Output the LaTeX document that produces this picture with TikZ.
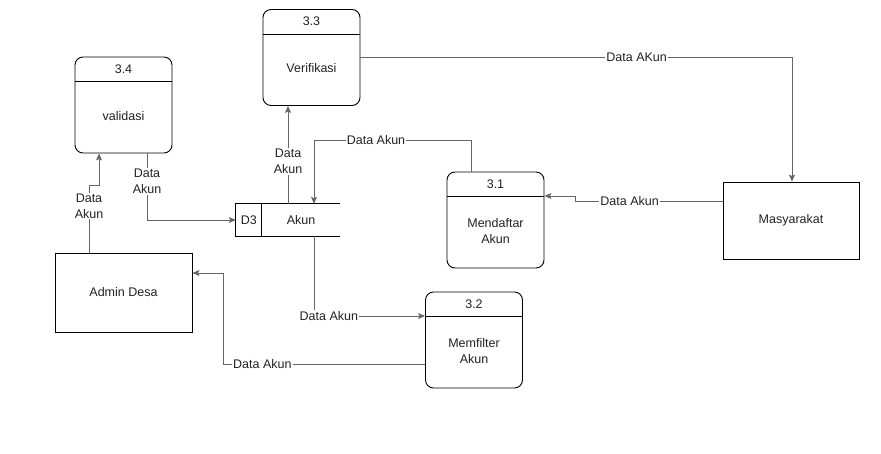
\documentclass[tikz,border=0pt]{standalone}
\usepackage{fontspec}
\setmainfont{Liberation Sans}
\usetikzlibrary{arrows.meta,calc}
\definecolor{lnc}{HTML}{666666}
\definecolor{txc}{HTML}{222222}
\tikzset{
  proc/.style={draw=black, line width=0.9pt, rounded corners=8pt, minimum width=97pt, minimum height=96pt, inner sep=0pt},
  ent/.style={draw=black, line width=0.9pt, minimum width=137pt, minimum height=78pt, inner sep=0pt},
  txt/.style={text=txc, font=\fontsize{12.5}{16}\selectfont, align=center, inner sep=0pt},
  flow/.style={draw=lnc, line width=0.8pt, -{Stealth[length=7pt,width=6pt,inset=1.5pt]}},
  plain/.style={draw=lnc, line width=0.8pt},
  lbl/.style={txt, fill=white, inner sep=1pt}
}
\begin{document}
\begin{tikzpicture}[x=1pt,y=-1pt]
\useasboundingbox (0,0) rectangle (881,453);
\fill[white] (0,0) rectangle (881,453);

% processes
\node[proc] (p34) at (123.5,105) {};
\node[proc] (p33) at (311.5,57.5) {};
\node[proc] (p31) at (495.5,220) {};
\node[proc] (p32) at (474,340) {};
\foreach \p in {p34,p33,p31,p32}{
  \draw[line width=0.9pt] ([yshift=-25pt]\p.north west) -- ([yshift=-25pt]\p.north east);
}
\node[txt] (h34) at ($(p34.north)+(0,12.5)$) {3.4};
\node[txt] (b34) at ($(p34.center)+(0,11)$) {validasi};
\node[txt] (h33) at ($(p33.north)+(0,12.5)$) {3.3};
\node[txt] (b33) at ($(p33.center)+(0,11)$) {Verifikasi};
\node[txt] (h31) at ($(p31.north)+(0,12.5)$) {3.1};
\node[txt] (b31) at ($(p31.center)+(0,11)$) {Mendaftar\\Akun};
\node[txt] (h32) at ($(p32.north)+(0,12.5)$) {3.2};
\node[txt] (b32) at ($(p32.center)+(0,11)$) {Memfilter\\Akun};

% entities
\node[ent, minimum width=136pt, minimum height=77pt] (masy) at (791,220.5) {};
\node[txt] (tmasy) at (masy.center) {Masyarakat};
\node[ent, minimum height=79pt] (admin) at (123.5,292.5) {};
\node[txt] (tadmin) at (admin.center) {Admin Desa};

% data store
\node[minimum width=104pt, minimum height=32pt, inner sep=0pt] (d3) at (288,220) {};
\draw[line width=0.9pt] (d3.north east) -- (d3.north west) -- (d3.south west) -- (d3.south east);
\draw[line width=0.9pt] ([xshift=26pt]d3.north west) -- ([xshift=26pt]d3.south west);
\node[txt] (td3) at ($(d3.west)+(13,0)$) {D3};
\node[txt] (takun) at ($(d3.center)+(13,0)$) {Akun};

% flows
% 3.1 -> D3
\coordinate (c1a) at (471,140);
\coordinate (c1b) at (314,140);
\draw[flow] ([xshift=-24.5pt]p31.north) -- (c1a) -- node[lbl,pos=0.605]{Data Akun} (c1b) -- ([xshift=26pt]d3.north);

% D3 -> 3.3
\draw[flow] (d3.north) -- node[lbl,pos=0.43]{Data\\Akun} ([xshift=-23.5pt]p33.south);

% 3.3 -> Masyarakat
\coordinate (c3a) at (792,57.5);
\draw[flow] (p33.east) -- node[lbl,pos=0.64]{Data AKun} (c3a) -- ([xshift=1pt]masy.north);

% Masyarakat -> 3.1
\coordinate (c4a) at (575,201.5);
\coordinate (c4b) at (575,196);
\draw[flow] ([yshift=19pt]masy.west) -- node[lbl,pos=0.63]{Data Akun} (c4a) -- (c4b) -- ([yshift=24pt]p31.east);

% D3 -> 3.2
\coordinate (c5a) at (314,316);
\draw[flow] ([xshift=26pt]d3.south) -- (c5a) -- node[lbl,pos=0.134]{Data Akun} ([yshift=24pt]p32.west);

% 3.2 -> Admin Desa
\coordinate (c6a) at (223,364);
\coordinate (c6b) at (223,273);
\draw[flow] ([yshift=-24pt]p32.west) -- node[lbl,pos=0.805]{Data Akun} (c6a) -- (c6b) -- ([yshift=19.5pt]admin.east);

% Admin Desa -> 3.4
\coordinate (c7a) at (89,185);
\coordinate (c7b) at (99,185);
\draw[flow] ([xshift=-34.5pt]admin.north) -- node[lbl,pos=0.69]{Data\\Akun} (c7a) -- (c7b) -- ([xshift=-24.5pt]p34.south);

% 3.4 -> D3
\coordinate (c8a) at (147,220);
\draw[flow] ([xshift=23.5pt]p34.south) -- node[lbl,pos=0.42]{Data\\Akun} (c8a) -- (d3.west);
\end{tikzpicture}
\end{document}
